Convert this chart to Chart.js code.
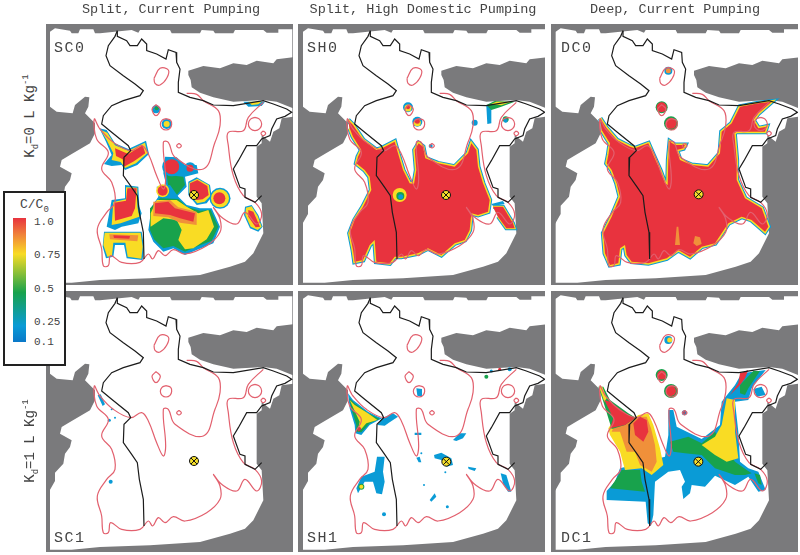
<!DOCTYPE html>
<html>
<head>
<meta charset="utf-8">
<script src="https://cdn.jsdelivr.net/npm/chart.js@4"></script>
<style>
  html, body { margin: 0; padding: 0; background: #fff; }
  body { position: relative; width: 800px; height: 555px; overflow: hidden; font-family: "Liberation Mono", monospace; color: #444; }
  canvas { position: absolute; filter: blur(0.5px); }
  .title, .tag, .side, .tick, .ctitle { position: absolute; white-space: nowrap; }
  .title { top: 1px; font-size: 13.5px; line-height: 18px; transform: translateX(-50%); }
  .tag { font-size: 15px; letter-spacing: 1.5px; line-height: 16px; }
  .side { font-size: 14px; transform: translate(-50%, -50%) rotate(-90deg); }
  .side sub, .side sup, .ctitle sub { font-size: 9px; line-height: 0; }
  #legend { position: absolute; left: 3px; top: 191px; width: 59px; height: 171px; border: 2px solid #222; background: #fff; z-index: 5; }
  #bar { position: absolute; left: 8px; top: 25px; width: 13px; height: 124px; }
  .tick { left: 29px; font-size: 11px; line-height: 12px; }
  .ctitle { left: 15px; top: 4px; font-size: 13px; }
</style>
</head>
<body>
<div id="legend"><div class="ctitle">C/C<sub>0</sub></div><div id="bar"></div></div>
<script>
const columnTitles = ['Split, Current Pumping', 'Split, High Domestic Pumping', 'Deep, Current Pumping'];
const panelTags = ['SC0', 'SH0', 'DC0', 'SC1', 'SH1', 'DC1'];
const legendTicks = ['1.0', '0.75', '0.5', '0.25', '0.1'];
const legendValues = [1, 0.75, 0.5, 0.25, 0.1];

// map outlines, in units of 1/3 px measured on the SC0 panel
const grayTop = [[100,40],[950,40],[950,88],[835,88],[835,98],[800,98],[790,90],[705,90],[700,100],[645,100],[640,92],[605,90],[600,100],[515,100],[510,90],[420,90],[415,98],[395,90],[300,100],[285,100],[280,88],[240,88],[235,100],[215,100],[210,92],[165,85],[150,95],[100,95]];
const grayNE = [[950,172],[880,172],[830,178],[820,190],[770,182],[740,195],[700,190],[660,205],[610,198],[565,212],[565,225],[572,240],[575,262],[600,278],[640,292],[700,305],[790,300],[830,305],[880,325],[950,325]];
const graySE = [[950,350],[880,350],[845,355],[838,385],[820,395],[810,425],[785,405],[785,430],[770,440],[770,590],[785,610],[790,700],[760,760],[735,785],[690,800],[600,825],[450,835],[300,840],[215,848],[100,848],[100,900],[950,900]];
const grayW = [[100,325],[150,320],[170,335],[218,340],[225,315],[255,290],[268,292],[265,320],[255,340],[285,370],[285,400],[270,430],[210,465],[185,480],[180,500],[215,520],[210,540],[195,560],[190,590],[165,617],[165,642],[145,677],[100,677]];
const grayLeft = [[100,60],[150,60],[150,900],[100,900]];
const grayRight = [[877,60],[950,60],[950,900],[877,900]];
const grayShapes = [grayTop, grayNE, graySE, grayW, grayLeft, grayRight];

const borderEast = [[352,92],[352,109],[380,122],[390,137],[412,137],[425,117],[440,132],[440,152],[470,162],[498,177],[505,149],[528,157],[530,187],[540,207],[535,247],[535,277],[570,292],[610,302],[640,315],[700,317],[790,302],[820,312],[860,327],[875,337],[855,349],[830,357],[815,387],[810,407],[785,417],[770,437],[740,437],[715,482],[700,507],[720,562],[735,567],[735,592],[765,607],[785,587]];
const borderWest = [[352,92],[345,109],[325,137],[318,167],[330,197],[370,227],[405,252],[430,272],[420,287],[370,302],[335,317],[310,347],[305,372],[335,397],[385,437],[392,452],[372,472],[370,527],[395,562],[412,587],[418,637],[430,697],[432,777]];
const borders = [borderEast, borderWest];

const contourMain = [[560,280],[590,283],[610,302],[655,332],[660,377],[645,427],[610,507],[525,472],[505,427],[490,427],[497,537],[490,567],[470,527],[445,462],[425,437],[392,452],[340,427],[300,387],[283,357],[290,417],[325,457],[305,507],[335,547],[345,607],[320,637],[292,687],[305,747],[310,797],[325,797],[332,767],[365,787],[420,787],[445,762],[458,777],[475,752],[495,767],[520,749],[555,762],[620,737],[660,697],[660,657],[640,622],[665,652],[710,672],[735,637],[770,672],[785,642],[765,607],[730,587],[700,527],[685,437],[685,397],[730,392],[745,352],[790,307]];
const contourBean = [[462,235],[480,205],[505,210],[500,235],[480,255],[465,250],[462,235]];
const contourRingA = [[765,352],[779,358],[785,372],[779,386],[765,392],[751,386],[745,372],[751,358],[765,352]];
const contourRingB = [[790,393],[797,400],[790,407],[783,400],[790,393]];
const contourRingC = [[537,430],[544,437],[537,444],[530,437],[537,430]];
const contourRingD = [[468,314],[481,328],[468,347],[456,328],[468,314]];
const contourRingE = [[498,356],[512,361],[515,373],[510,385],[498,390],[486,385],[481,373],[486,361],[498,356]];
const contours = [contourMain, contourBean, contourRingA, contourRingB, contourRingC, contourRingD, contourRingE];

// C/C0 fields: [level, outline or [x, y, radius], rim]
const sc0Field = [
  [0.25, [[298,385],[320,390],[345,430],[385,447],[438,422],[447,462],[412,495],[375,510],[365,495],[335,498],[312,492],[335,465],[318,425]]],
  [0.75, [[302,390],[322,398],[345,436],[385,452],[435,428],[442,460],[408,490],[375,504],[362,486],[335,480],[340,460],[320,420]]],
  [1, [[345,445],[385,462],[428,436],[436,460],[402,484],[372,500],[368,478],[348,468]]],
  [0.25, [[375,555],[415,560],[418,620],[425,640],[415,670],[365,680],[345,690],[320,680],[335,600],[375,595]]],
  [0.75, [[378,562],[412,563],[412,620],[418,650],[362,670],[335,675],[340,606],[378,598]]],
  [1, [[382,565],[410,565],[405,625],[395,648],[345,662],[343,608],[378,602]]],
  [0.25, [[312,695],[425,695],[432,740],[428,780],[380,775],[372,735],[345,735],[340,770],[318,775],[308,740]]],
  [0.75, [[314,698],[422,698],[428,740],[424,776],[383,770],[376,728],[340,728],[336,767],[322,770],[310,735]]],
  [0.88, [[328,703],[415,706],[412,724],[330,718]]],
  [1, [[340,706],[390,708],[388,716],[342,714]]],
  [0.25, [[495,470],[530,472],[555,495],[590,495],[595,520],[555,530],[560,560],[530,590],[500,560],[490,520]]],
  [0.5, [[500,525],[550,530],[555,555],[530,585],[505,560]]],
  [0.25, [[455,620],[475,590],[470,560],[510,555],[535,590],[560,615],[600,625],[635,625],[660,680],[640,730],[590,750],[555,765],[520,745],[490,755],[460,725],[445,690]]],
  [0.5, [[450,625],[480,595],[535,597],[560,620],[600,632],[632,630],[655,680],[635,722],[585,742],[555,755],[520,738],[490,745],[462,718],[450,690]]],
  [0.75, [[452,640],[470,600],[530,600],[560,620],[595,640],[625,630],[642,680],[620,718],[580,745],[555,748],[535,720],[545,690],[530,660],[490,655],[452,680]]],
  [0.88, [[460,605],[510,600],[535,622],[590,635],[590,675],[540,668],[505,652],[460,648]]],
  [1, [[465,610],[505,605],[525,625],[585,640],[580,665],[540,655],[510,645],[465,640]]],
  [0.75, [488,572,6.5]],
  [1, [488,572,5]],
  [0.25, [[565,545],[590,532],[630,555],[635,590],[620,610],[590,615],[565,585]]],
  [0.75, [[568,548],[592,536],[627,556],[631,588],[614,605],[592,610],[568,582]]],
  [1, [[570,550],[592,540],[622,558],[626,585],[608,598],[590,600],[570,578]]],
  [0.25, [660,595,10.5]],
  [0.75, [660,595,9]],
  [1, [658,595,6]],
  [0.25, [515,500,9.5]],
  [1, [515,500,7.5]],
  [0.25, [570,505,6]],
  [1, [570,505,3.5]],
  [0.25, [[735,620],[755,615],[775,645],[788,680],[775,695],[750,685],[732,645]]],
  [0.75, [[738,623],[755,619],[773,648],[785,680],[773,690],[752,680],[736,645]]],
  [1, [[745,630],[760,635],[780,680],[767,682],[745,650]]],
  [0.25, [468,328,4]],
  [0.5, [470,325,2]],
  [0.25, [500,372,5]],
  [0.75, [500,372,3]],
  [0.25, [[730,305],[795,305],[785,318],[745,320]]],
  [0.75, [[745,305],[785,305],[775,313],[755,315]]],
];
const sh0Main = [[160,360],[175,375],[205,420],[245,450],[262,445],[300,425],[310,460],[325,510],[345,550],[358,552],[365,510],[360,450],[372,430],[385,440],[392,475],[430,490],[480,500],[520,460],[530,430],[545,450],[550,500],[565,550],[585,600],[580,635],[550,645],[530,640],[525,690],[510,720],[480,730],[440,765],[400,745],[370,760],[320,770],[300,770],[285,790],[245,785],[240,720],[225,735],[205,780],[180,785],[175,750],[165,700],[180,660],[205,620],[230,570],[225,530],[210,510],[185,490],[190,470],[200,450],[175,410],[165,385]];
const sh0Lobe = [[595,620],[625,620],[655,670],[660,685],[635,685],[610,650]];
const sh0Field = [
  [0.25, sh0Main, 5],
  [0.75, sh0Main, 3],
  [1, sh0Main],
  [0.25, [[590,612],[625,603],[630,612],[595,618]]],
  [0.25, sh0Lobe, 4],
  [0.75, sh0Lobe, 2],
  [1, sh0Lobe],
  [0.75, [315,585,7]],
  [0.5, [317,588,4]],
  [0.25, [318,590,2.5]],
  [0.25, [340,322,5]],
  [0.75, [340,324,3.5]],
  [1, [340,322,2]],
  [0.25, [368,365,5]],
  [0.75, [368,368,3.5]],
  [1, [368,364,2.5]],
  [0.25, [408,438,2]],
  [0.25, [540,368,3]],
  [0.25, [[575,318],[590,318],[590,370],[578,372]]],
  [0.5, [[575,315],[600,303],[660,305],[620,320],[590,330]]],
  [0.75, [[590,312],[605,305],[650,305],[620,316]]],
  [0.5, [633,358,3]],
  [0.25, [633,362,2]],
];
const dc0Main = [[165,355],[185,385],[215,420],[255,440],[270,445],[310,430],[325,465],[345,510],[360,550],[368,555],[370,480],[375,425],[390,435],[420,435],[415,445],[395,450],[405,480],[440,495],[490,500],[525,460],[530,395],[560,370],[585,320],[640,310],[680,305],[640,340],[625,360],[640,385],[665,380],[660,395],[610,395],[575,395],[568,400],[575,480],[575,540],[600,595],[625,610],[650,625],[670,680],[660,695],[620,660],[590,650],[550,670],[530,700],[510,730],[470,740],[435,770],[400,750],[365,775],[310,790],[260,785],[245,765],[240,735],[225,745],[220,790],[195,795],[180,760],[175,700],[200,650],[225,590],[215,550],[200,510],[185,490],[190,465],[195,430],[170,390]];
const dc0Field = [
  [0.25, dc0Main, 5],
  [0.75, dc0Main, 3],
  [1, dc0Main],
  [0.88, [[445,730],[450,708],[465,712],[470,732],[455,738]]],
  [0.88, [[390,735],[395,680],[400,680],[405,735]]],
  [0.5, [350,322,6]],
  [1, [350,322,5]],
  [0.5, [378,370,7]],
  [1, [378,370,5.5]],
  [0.25, [370,212,4]],
  [0.88, [370,212,2.5]],
];
const sc1Field = [
  [0.25, [[293,648],[302,645],[315,675],[308,680]]],
  [0.25, [335,690,1]],
  [0.25, [345,715,1]],
  [0.25, [328,723,1.5]],
  [0.25, [332,907,2]],
];
const sh1Field = [
  [0.25, [[160,325],[175,345],[220,380],[250,395],[262,400],[225,420],[200,450],[182,445],[180,420],[165,370]]],
  [0.5, [[164,340],[180,355],[220,385],[255,402],[225,415],[200,442],[186,440],[185,420],[170,370]]],
  [0.75, [[165,345],[180,360],[220,385],[248,405],[215,415],[200,432],[192,425],[195,410]]],
  [1, [[188,432],[196,425],[200,432],[192,440]]],
  [0.25, [[248,420],[262,400],[295,385],[310,395],[285,412],[270,422]]],
  [0.25, [[247,515],[270,515],[265,560],[270,590],[262,628],[245,625],[235,590],[210,590],[190,625],[185,610],[200,575],[240,560]]],
  [0.5, [200,605,3]],
  [0.75, [200,605,2]],
  [0.25, [[475,465],[495,445],[515,445],[505,460],[485,468]]],
  [0.25, [[418,510],[440,503],[470,520],[475,540],[455,545],[440,525],[420,520]]],
  [0.25, [[520,545],[545,550],[540,558],[522,552]]],
  [0.25, [[618,565],[635,570],[650,620],[640,620],[625,595]]],
  [0.25, [[365,310],[382,312],[382,335],[368,332]]],
  [0.25, [[360,443],[380,443],[380,450],[360,450]]],
  [0.25, [[365,518],[375,515],[380,532],[372,532]]],
  [0.25, [[405,645],[420,625],[425,635],[410,650]]],
  [0.25, [388,600,1]], [0.25, [458,665,1.5]], [0.25, [268,688,2]], [0.25, [380,505,1]], [0.25, [452,562,1]],
  [0.25, [590,258,1.5]], [0.25, [645,253,2]], [1, [615,253,1.5]],
  [0.5, [575,275,2]],
];
const dc1Field = [
  [0.25, [[370,375],[385,375],[395,425],[470,462],[525,420],[530,350],[570,300],[590,265],[662,255],[620,310],[610,345],[570,350],[580,440],[585,530],[610,550],[640,560],[662,615],[640,620],[610,575],[570,600],[510,572],[480,605],[440,600],[435,625],[415,642],[410,605],[420,590],[405,555],[370,560],[330,590],[325,690],[318,722],[308,715],[302,650],[185,645],[185,618],[210,590],[225,550],[360,515],[370,450]]],
  [0.5, [[375,470],[430,455],[470,475],[510,440],[570,530],[605,555],[620,565],[600,570],[570,570],[510,550],[470,510],[420,505],[385,500]]],
  [0.5, [[230,555],[285,555],[290,590],[300,620],[195,610],[215,580]]],
  [0.5, [[628,565],[645,570],[650,600],[640,595]]],
  [0.5, [[585,300],[625,258],[645,258],[610,310],[600,330],[585,325]]],
  [0.75, [[545,340],[570,345],[570,440],[580,520],[545,530],[510,510],[470,480],[510,455],[530,420]]],
  [0.25, [[625,312],[650,305],[662,330],[635,335]]],
  [0.75, [[190,430],[210,400],[240,420],[280,390],[310,385],[325,420],[345,490],[355,540],[320,570],[290,550],[240,555],[225,500],[195,450]]],
  [0.88, [[200,440],[215,405],[260,405],[280,395],[305,395],[318,430],[330,480],[335,530],[320,560],[285,540],[270,500],[245,500],[225,440]]],
  [0.5, [[160,305],[175,305],[195,345],[250,385],[272,398],[240,420],[200,432],[175,350]]],
  [0.75, [[162,305],[172,305],[185,340],[178,350]]],
  [1, [[178,345],[195,350],[250,390],[270,400],[240,420],[195,430],[205,400]]],
  [1, [[265,415],[285,395],[305,405],[310,440],[295,470],[270,450]]],
  [1, [[585,265],[610,255],[600,280],[585,300],[570,315],[555,330],[580,295]]],
  [0.5, [350,270,6]],
  [1, [350,270,4.5]],
  [0.5, [378,318,7]],
  [1, [378,318,5]],
  [0.25, [370,165,4]],
  [0.75, [374,165,2.5]],
  [0.25, [418,383,2.5]],
  [1, [418,383,1]],
];

const levelColors = { 0.25: '#0a9bd6', 0.5: '#18a24c', 0.75: '#f9dc24', 0.88: '#f0903a', 1: '#e8333e' };
const gradientStops = ['#e8333e 0%', '#f0803a 13%', '#f9dc24 29%', '#18a24c 60%', '#0a9bd6 87%', '#0a78c8 100%'];

const panels = [
  { left: 46, top: 24, xMin: 138, yMin: 72, dx: 0, dy: 0, cx: 582, cy: 585, field: sc0Field, tagX: 54, tagY: 41 },
  { left: 298, top: 24, xMin: 10, yMin: 72, dx: -125, dy: 0, cx: 454, cy: 585, field: sh0Field, tagX: 307, tagY: 41 },
  { left: 551, top: 24, xMin: 18, yMin: 72, dx: -118, dy: 0, cx: 461, cy: 583, field: dc0Field, tagX: 561, tagY: 41 },
  { left: 46, top: 291, xMin: 138, yMin: 335, dx: 0, dy: 263, cx: 582, cy: 845, field: sc1Field, tagX: 54, tagY: 531 },
  { left: 298, top: 291, xMin: 10, yMin: 18, dx: -125, dy: -54, cx: 455, cy: 530, field: sh1Field, tagX: 307, tagY: 531 },
  { left: 551, top: 291, xMin: 18, yMin: 18, dx: -118, dy: -54, cx: 460, cy: 530, field: dc1Field, tagX: 561, tagY: 531 },
];

function toPoints(list, dx, dy) {
  return list.map((p) => ({ x: p[0] + dx, y: p[1] + dy }));
}

function shapeSet(data, color, rim) {
  return {
    data: data,
    showLine: true,
    fill: 'shape',
    backgroundColor: color,
    borderColor: color,
    borderWidth: rim || 0,
    pointRadius: 0,
  };
}

function lineSet(data, color, tension) {
  return {
    data: data,
    showLine: true,
    fill: false,
    borderColor: color,
    borderWidth: 1.2,
    tension: tension,
    pointRadius: 0,
  };
}

function drawPanel(p, i) {
  const canvas = document.createElement('canvas');
  canvas.width = 247;
  canvas.height = 261;
  canvas.style.left = p.left + 'px';
  canvas.style.top = p.top + 'px';
  document.body.appendChild(canvas);

  const sets = [];
  grayShapes.forEach((s) => sets.push(shapeSet(toPoints(s, p.dx, p.dy), '#7a7a7c')));
  p.field.forEach((layer) => {
    const color = levelColors[layer[0]];
    if (Array.isArray(layer[1][0])) {
      sets.push(shapeSet(toPoints(layer[1], 0, 0), color, layer[2]));
    } else {
      sets.push({
        data: [{ x: layer[1][0], y: layer[1][1] }],
        pointRadius: layer[1][2],
        pointBackgroundColor: color,
        pointBorderWidth: 0,
      });
    }
  });
  contours.forEach((c) => sets.push(lineSet(toPoints(c, p.dx, p.dy), '#e2606e', 0.4)));
  borders.forEach((b) => sets.push(lineSet(toPoints(b, p.dx, p.dy), '#1c1c1c', 0)));
  sets.push({ data: [{ x: p.cx, y: p.cy }], pointRadius: 4.5, pointBackgroundColor: '#f6e02a', pointBorderColor: '#111', pointBorderWidth: 1 });
  sets.push({ data: [{ x: p.cx, y: p.cy }], pointStyle: 'crossRot', pointRadius: 4.5, pointBorderColor: '#111', pointBorderWidth: 1 });
  sets.forEach((s, n) => { s.order = sets.length - n; });

  new Chart(canvas, {
    type: 'scatter',
    data: { datasets: sets },
    options: {
      responsive: false,
      animation: false,
      layout: { padding: 0, autoPadding: false },
      plugins: { legend: { display: false }, tooltip: { enabled: false } },
      scales: {
        x: { type: 'linear', display: false, min: p.xMin, max: p.xMin + 741 },
        y: { type: 'linear', display: false, reverse: true, min: p.yMin, max: p.yMin + 783 },
      },
    },
  });

  const tag = document.createElement('div');
  tag.className = 'tag';
  tag.textContent = panelTags[i];
  tag.style.left = p.tagX + 'px';
  tag.style.top = p.tagY + 'px';
  document.body.appendChild(tag);
}

panels.forEach(drawPanel);

[171, 423, 675].forEach((x, i) => {
  const t = document.createElement('div');
  t.className = 'title';
  t.textContent = columnTitles[i];
  t.style.left = x + 'px';
  document.body.appendChild(t);
});

[['0', 116], ['1', 441]].forEach((s) => {
  const t = document.createElement('div');
  t.className = 'side';
  t.innerHTML = 'K<sub>d</sub>=' + s[0] + ' L Kg<sup>-1</sup>';
  t.style.left = '30px';
  t.style.top = s[1] + 'px';
  document.body.appendChild(t);
});

document.getElementById('bar').style.background = 'linear-gradient(to bottom,' + gradientStops.join(',') + ')';
legendTicks.forEach((label, i) => {
  const t = document.createElement('div');
  t.className = 'tick';
  t.textContent = label;
  t.style.top = 23 + (1 - legendValues[i]) * 133 + 'px';
  document.getElementById('legend').appendChild(t);
});
</script>
</body>
</html>
